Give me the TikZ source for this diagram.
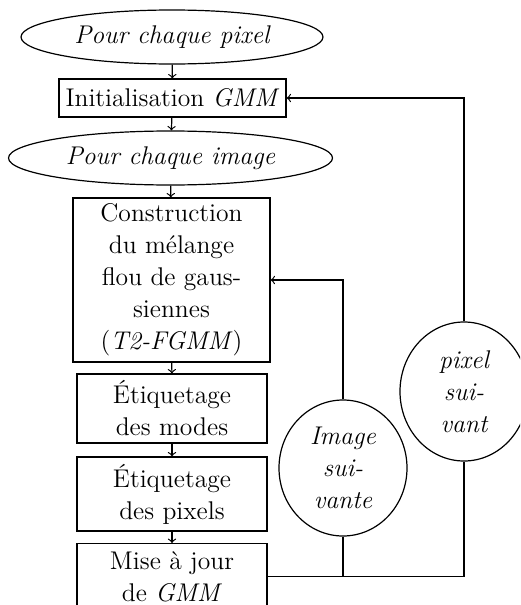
\documentclass[tikz,border=0pt]{standalone}
\usetikzlibrary{shapes.geometric}
\begin{document}
\begin{tikzpicture}[x=0.5pt,y=-0.5pt,line width=0.6pt,
  every node/.style={font=\fontsize{12.8}{16}\selectfont, align=center, inner sep=0pt},
  loopnode/.style={ellipse, draw, font=\fontsize{12.8}{16}\selectfont\itshape},
  stepbox/.style={rectangle, draw},
  flow/.style={->},
  link/.style={-}]
\useasboundingbox (0,0) rectangle (520,605);
\clip (0,0) rectangle (520,605);
\node[loopnode, minimum width=151pt, minimum height=27pt] (e1) at (172,37) {Pour chaque pixel};
\node[stepbox, minimum width=113.5pt, minimum height=19pt] (init) at (172.5,98) {Initialisation \textit{GMM}};
\node[loopnode, minimum width=162pt, minimum height=27pt] (e2) at (170.5,158) {Pour chaque image};
\node[stepbox, minimum width=98.5pt, minimum height=82pt] (cons) at (171.5,280) {Construction\\du mélange\\flou de gaus-\\siennes\\(\textit{T2-FGMM})};
\node[stepbox, minimum width=95pt, minimum height=34.5pt] (modes) at (172,408.5) {Étiquetage\\des modes};
\node[stepbox, minimum width=95pt, minimum height=37pt] (pixels) at (172,494) {Étiquetage\\des pixels};
\node[stepbox, minimum width=95pt, minimum height=33pt, anchor=north] (maj) at (172,543) {Mise à jour\\de \textit{GMM}};
\node[loopnode, minimum width=64pt, minimum height=68pt] (img) at (343,468) {Image\\sui-\\vante};
\node[loopnode, minimum width=64pt, minimum height=69.5pt] (pix) at (464,391.5) {pixel\\sui-\\vant};
\draw[flow] (e1) -- (init);
\draw[flow] (init) -- (e2);
\draw[flow] (e2) -- (cons);
\draw[flow] (cons) -- (modes);
\draw[flow] (modes) -- (pixels);
\draw[flow] (pixels) -- (maj);
\coordinate (join) at (pix.south |- maj.east);
\draw[link] (maj.east) -- (join) -- (pix.south);
\draw[link] (img.south) -- (img.south |- maj.east);
\draw[flow] (img.north) |- (cons.east);
\draw[flow] (pix.north) |- (init.east);
\end{tikzpicture}
\end{document}
